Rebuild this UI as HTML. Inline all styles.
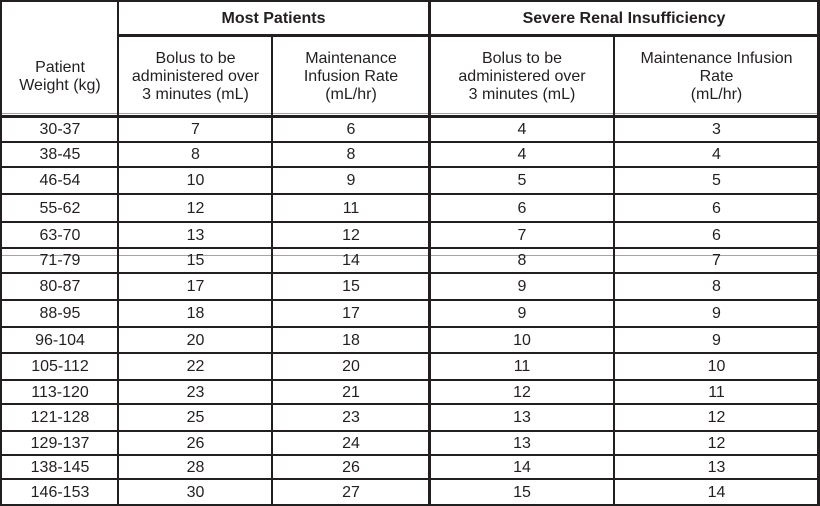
<!DOCTYPE html>
<html><head><meta charset="utf-8"><style>
body{margin:0;background:#fff;}
#t{position:relative;width:820px;height:506px;overflow:hidden;font-family:"Liberation Sans",Arial,sans-serif;color:#231f20;font-size:16px;}
.l{position:absolute;background:#231f20;}
.c{position:absolute;background:#4fc6de;height:1px;}
.tx{position:absolute;display:flex;align-items:center;justify-content:center;text-align:center;line-height:18px;}
.b{font-weight:bold;}
</style></head><body>
<div id="t"></div>
<script>
const weights=["30-37","38-45","46-54","55-62","63-70","71-79","80-87","88-95","96-104","105-112","113-120","121-128","129-137","138-145","146-153"];
const mostBolus=[7,8,10,12,13,15,17,18,20,22,23,25,26,28,30];
const mostRate=[6,8,9,11,12,14,15,17,18,20,21,23,24,26,27];
const renalBolus=[4,4,5,6,7,8,9,9,10,11,12,13,13,14,15];
const renalRate=[3,4,5,6,6,7,8,9,9,10,11,12,12,13,14];
const rowLines=[117,142,167,194,222,248,273,300,327,353,380,404,431,455,479,505];
const colX=[1,118,272,429,614,818];
const t=document.getElementById('t');
function line(x,y,w,h,n){const d=document.createElement('div');d.className='l';d.style.cssText+=`left:${x}px;top:${y}px;width:${w}px;height:${h}px`;


t.appendChild(d);}
function txt(x,y,w,h,s,n,cls){const d=document.createElement('div');d.className='tx '+(cls||'');d.style.cssText+=`left:${x}px;top:${y}px;width:${w}px;height:${h}px`;d.innerHTML=s;


t.appendChild(d);}
[113,255].forEach(y=>{const d=document.createElement('div');d.className='c';d.style.cssText+=`left:0;top:${y}px;width:820px`;


t.appendChild(d);});
line(0,0,820,2,'top-border');
line(0,0,2,506,'left-border');
line(817,0,3,506,'right-border');
line(117,0,2,506,'col-line');
line(428,0,3,506,'col-line');
line(271,35,2,471,'col-line');
line(613,35,2,471,'col-line');
line(118,34,700,3,'group-header-line');
rowLines.forEach((y,i)=>line(0,i==0?115:y-1,820,i==0?3:2,'row-line'));
txt(118,2,311,33,'Most Patients','header-most-patients','b');
txt(430,2,388,33,'Severe Renal Insufficiency','header-severe-renal','b');
txt(2,38,116,77,'Patient<br>Weight (kg)','header-weight');
const sub=['Bolus to be<br>administered over<br>3 minutes (mL)','Maintenance<br>Infusion Rate<br>(mL/hr)','Bolus to be<br>administered over<br>3 minutes (mL)','Maintenance Infusion<br>Rate<br>(mL/hr)'];
for(let i=0;i<4;i++)txt(colX[i+1]+1,38,colX[i+2]-colX[i+1]-1,78,sub[i],'subheader');
const cols=[weights,mostBolus,mostRate,renalBolus,renalRate];
for(let r=0;r<weights.length;r++){
  const y=rowLines[r]+1,h=rowLines[r+1]-rowLines[r]-1;
  for(let c=0;c<5;c++)txt(colX[c]+1,y,colX[c+1]-colX[c]-1,h,cols[c][r],'cell');
}
</script>
</body></html>
